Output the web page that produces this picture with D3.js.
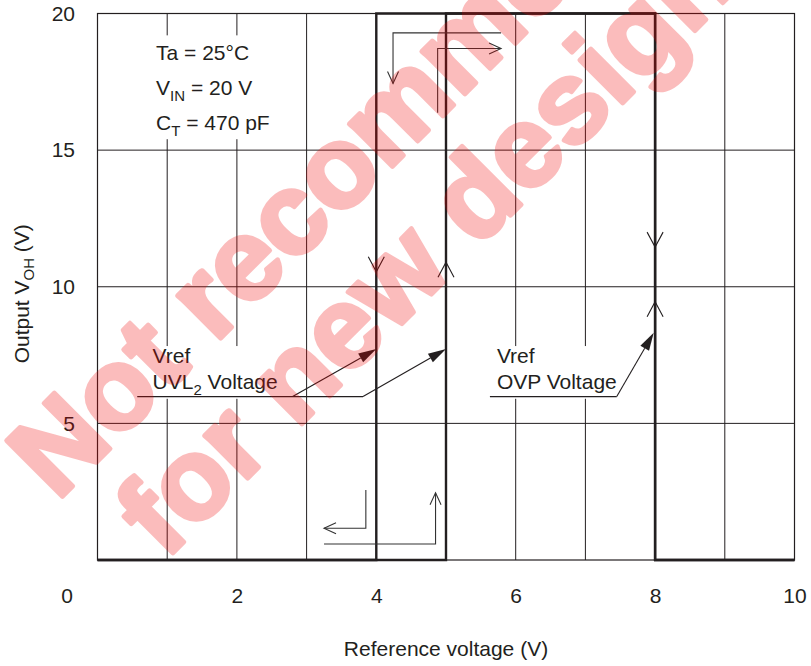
<!DOCTYPE html>
<html>
<head>
<meta charset="utf-8">
<script src="https://cdn.jsdelivr.net/npm/d3@7"></script>
<style>
  html, body { margin: 0; padding: 0; background: #fff; }
  svg { display: block; font-family: "Liberation Sans", Arial, Helvetica, sans-serif; }
</style>
</head>
<body>
<svg id="chart" width="811" height="666"></svg>
<script>
// ---- data ----------------------------------------------------------
const refTicks = [2, 4, 6, 8, 10];          // reference voltage tick labels (V)
const outTicks = [5, 10, 15, 20];           // output voltage tick labels (V)
const gridRef  = [1, 2, 3, 4, 5, 6, 7, 8, 9];
const gridOut  = [5, 10, 15];

// rising sweep of the reference voltage
const riseRef = [0, 5, 5, 8, 8, 10];
const riseOut = [0, 0, 20, 20, 0, 0];
// falling sweep of the reference voltage
const fallRef = [10, 8, 8, 4, 4, 0];
const fallOut = [0, 0, 20, 20, 0, 0];

// direction chevrons on the switching edges (1 = pointing down, -1 = up)
const chevRef = [4, 5, 8, 8];
const chevOut = [10.55, 10.9, 11.45, 9.45];
const chevDir = [1, -1, 1, -1];

// sweep-direction guides (polyline in data units, arrow at the last point)
const guideRef = [[5.79, 4.24, 4.24], [4.88, 4.88, 5.79], [3.85, 3.85, 3.25], [3.25, 4.85, 4.85]];
const guideOut = [[19.29, 19.29, 17.44], [16.37, 18.72, 18.72], [2.56, 1.16, 1.16], [0.585, 0.585, 2.46]];

// threshold callouts
const uvlLineRef = [0.57, 3.81];
const ovpLineRef = [5.63, 7.45];
const calloutOut = 5.98;
const uvlArrowFrom = [[2.80, 5.98], [3.81, 5.98]];
const uvlArrowTo   = [[4.0, 7.72], [5.0, 7.72]];
const ovpArrowFrom = [[7.45, 5.98]];
const ovpArrowTo   = [[7.98, 8.32]];

// ---- layout --------------------------------------------------------
const ink = "#231f20";
const svg = d3.select("#chart");
const x = d3.scaleLinear().domain([0, 10]).range([97.5, 794.5]);
const y = d3.scaleLinear().domain([0, 20]).range([560, 13.5]);
const fs = 21;

// grid
const grid = svg.append("g").attr("stroke", ink).attr("stroke-width", 1);
grid.selectAll("line.v").data(gridRef).join("line")
  .attr("x1", d => x(d)).attr("x2", d => x(d))
  .attr("y1", y(0)).attr("y2", y(20));
grid.selectAll("line.h").data(gridOut).join("line")
  .attr("x1", x(0)).attr("x2", x(10))
  .attr("y1", d => y(d)).attr("y2", d => y(d));
// frame
svg.append("rect")
  .attr("x", x(0)).attr("y", y(20))
  .attr("width", x(10) - x(0)).attr("height", y(0) - y(20))
  .attr("fill", "none").attr("stroke", ink).attr("stroke-width", 1.2);

// white backing behind in-plot labels
const backs = [[0.68, 2.76, 19.2, 15.4], [0.6, 2.8, 7.83, 5.9], [5.6, 7.5, 7.83, 5.9]];
svg.append("g").selectAll("rect").data(backs).join("rect")
  .attr("x", d => x(d[0])).attr("width", d => x(d[1]) - x(d[0]))
  .attr("y", d => y(d[2])).attr("height", d => y(d[3]) - y(d[2]))
  .attr("fill", "#fff");

// hysteresis characteristic
const line = d3.line().x(d => x(d[0])).y(d => y(d[1]));
[[riseRef, riseOut], [fallRef, fallOut]].forEach(([r, o]) => {
  svg.append("path")
    .attr("d", line(r.map((v, i) => [v, o[i]])))
    .attr("fill", "none").attr("stroke", ink).attr("stroke-width", 2.4)
    .attr("stroke-linejoin", "miter");
});

// chevrons
const chev = svg.append("g").attr("fill", "none").attr("stroke", ink).attr("stroke-width", 1.1);
chevRef.forEach((r, i) => {
  const tx = x(r), ty = y(chevOut[i]), s = chevDir[i];
  chev.append("path").attr("d", `M${tx - 8},${ty - s * 15}L${tx},${ty}L${tx + 8},${ty - s * 15}`);
});

// guides with open arrowheads
function openHead(g, p0, p1, len, hw) {
  const dx = p1[0] - p0[0], dy = p1[1] - p0[1], L = Math.hypot(dx, dy);
  const ux = dx / L, uy = dy / L, nx = -uy, ny = ux;
  const bx = p1[0] - ux * len, by = p1[1] - uy * len;
  g.append("path").attr("d",
    `M${bx + nx * hw},${by + ny * hw}L${p1[0]},${p1[1]}L${bx - nx * hw},${by - ny * hw}`);
}
const guideG = svg.append("g").attr("fill", "none").attr("stroke", "#333").attr("stroke-width", 1.1);
guideRef.forEach((r, i) => {
  const pts = r.map((v, j) => [x(v), y(guideOut[i][j])]);
  guideG.append("path").attr("d", d3.line()(pts));
  openHead(guideG, pts[pts.length - 2], pts[pts.length - 1], 12, 5.5);
});

// callout leaders and filled arrows
const call = svg.append("g").attr("stroke", ink).attr("stroke-width", 1.1).attr("fill", "none");
[uvlLineRef, ovpLineRef].forEach(r => {
  call.append("line").attr("x1", x(r[0])).attr("x2", x(r[1]))
    .attr("y1", y(calloutOut)).attr("y2", y(calloutOut));
});
function filledArrow(p0, p1) {
  const a = [x(p0[0]), y(p0[1])], b = [x(p1[0]), y(p1[1])];
  const dx = b[0] - a[0], dy = b[1] - a[1], L = Math.hypot(dx, dy);
  const ux = dx / L, uy = dy / L, nx = -uy, ny = ux, len = 18, hw = 5;
  const bx = b[0] - ux * len, by = b[1] - uy * len;
  call.append("line").attr("x1", a[0]).attr("y1", a[1]).attr("x2", bx).attr("y2", by);
  svg.append("path")
    .attr("d", `M${b[0]},${b[1]}L${bx + nx * hw},${by + ny * hw}L${bx - nx * hw},${by - ny * hw}Z`)
    .attr("fill", ink);
}
uvlArrowFrom.forEach((p, i) => filledArrow(p, uvlArrowTo[i]));
ovpArrowFrom.forEach((p, i) => filledArrow(p, ovpArrowTo[i]));

// axes (labels only)
const xAxis = svg.append("g").attr("transform", `translate(0,${y(0)})`)
  .call(d3.axisBottom(x).tickValues(refTicks).tickSize(0).tickPadding(28).tickFormat(d3.format("d")));
const yAxis = svg.append("g").attr("transform", `translate(${x(0)},0)`)
  .call(d3.axisLeft(y).tickValues(outTicks).tickSize(0).tickPadding(22.5).tickFormat(d3.format("d")));
[xAxis, yAxis].forEach(a => {
  a.select(".domain").remove();
  a.selectAll("text").attr("font-size", fs).attr("fill", ink)
    .attr("font-family", "Liberation Sans, Arial, sans-serif");
});
// shared origin label
svg.append("text").attr("x", x(0) - 30.5).attr("y", 603)
  .attr("text-anchor", "middle").attr("font-size", fs).attr("fill", ink).text("0");

// axis titles
svg.append("text").attr("x", (x(0) + x(10)) / 2).attr("y", 656)
  .attr("text-anchor", "middle").attr("font-size", fs).attr("fill", ink)
  .text("Reference voltage (V)");
const yt = svg.append("text").attr("transform", `translate(29,${(y(0) + y(20)) / 2 + 7}) rotate(-90)`)
  .attr("text-anchor", "middle").attr("font-size", fs).attr("fill", ink);
yt.append("tspan").text("Output V");
yt.append("tspan").attr("font-size", 15).attr("dy", 5).text("OH");
yt.append("tspan").attr("dy", -5).text(" (V)");

// conditions
function subText(px, py, main, sub, rest) {
  const t = svg.append("text").attr("x", px).attr("y", py).attr("font-size", fs).attr("fill", ink);
  t.append("tspan").text(main);
  if (sub) {
    t.append("tspan").attr("font-size", 15).attr("dy", 6).text(sub);
    t.append("tspan").attr("dy", -6).text(rest);
  }
  return t;
}
subText(x(0.84), 60, "Ta = 25°C");
subText(x(0.84), 95, "V", "IN", " = 20 V");
subText(x(0.84), 130, "C", "T", " = 470 pF");

// callout labels
subText(x(0.79), 363, "Vref");
subText(x(0.79), 389, "UVL", "2", " Voltage");
subText(x(5.73), 363, "Vref");
subText(x(5.73), 389, "OVP Voltage");

// status watermark (drawn opaque, then faded as one layer)
const wm = svg.append("g").attr("transform", "translate(57,502) rotate(-45)")
  .attr("opacity", 0.26)
  .attr("font-family", "Liberation Sans, Arial, sans-serif")
  .attr("font-weight", "bold").attr("font-size", 115)
  .attr("fill", "rgb(240,0,0)").attr("stroke", "rgb(240,0,0)")
  .attr("stroke-width", 4.5).attr("stroke-linejoin", "round");
wm.append("text").attr("x", 0).attr("y", 0).text("Not recommended");
wm.append("text").attr("x", 35).attr("y", 118).text("for new designs");
</script>
</body>
</html>
